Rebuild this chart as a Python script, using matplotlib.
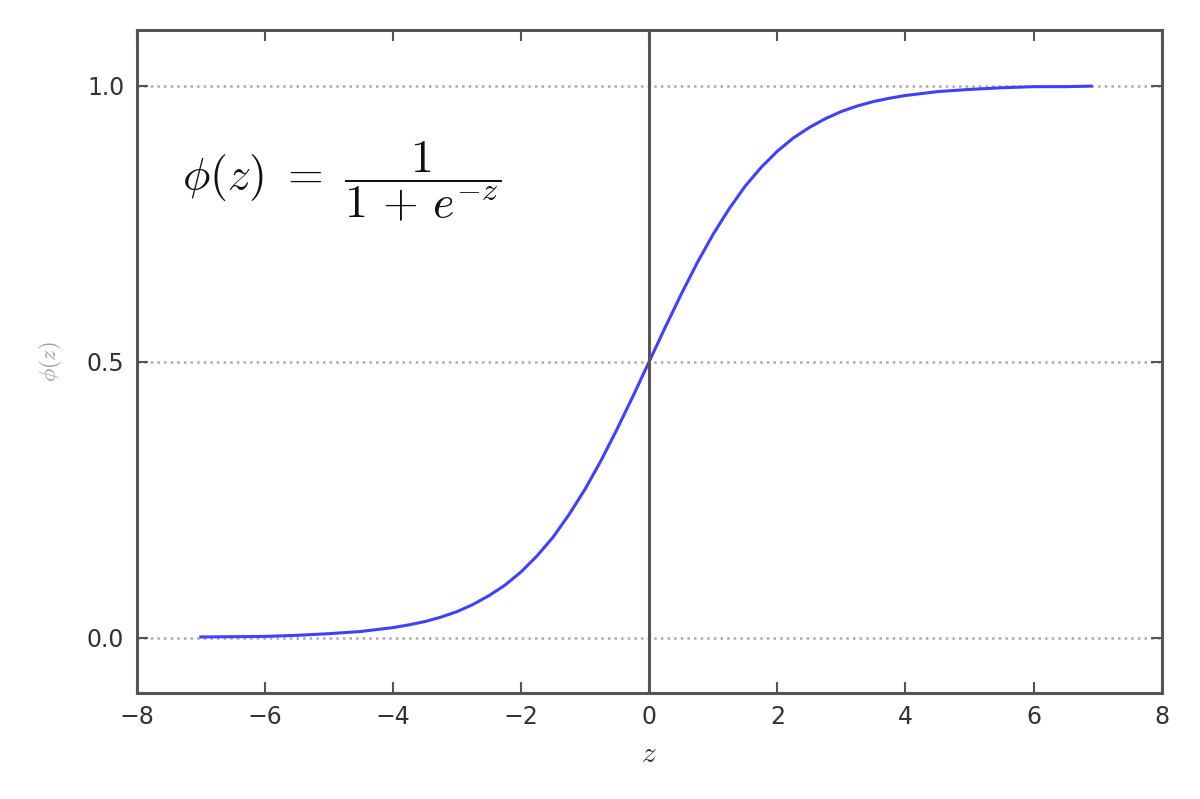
import matplotlib.pyplot as plt

# values
z = [-7.0, -6.5, -6.0, -5.5, -5.0, -4.5, -4.0, -3.75, -3.5, -3.25, -3.0, -2.75, -2.5, -2.25,
     -2.0, -1.75, -1.5, -1.25, -1.0, -0.75, -0.5, -0.25, 0.0, 0.25, 0.5, 0.75, 1.0, 1.25,
     1.5, 1.75, 2.0, 2.25, 2.5, 2.75, 3.0, 3.25, 3.5, 3.75, 4.0, 4.5, 5.0, 5.5, 6.0, 6.5, 6.9]
phi = [0.001, 0.0015, 0.002, 0.004, 0.007, 0.011, 0.018, 0.023, 0.029, 0.037, 0.047, 0.060,
       0.076, 0.095, 0.119, 0.148, 0.182, 0.223, 0.269, 0.321, 0.378, 0.438, 0.5, 0.562,
       0.622, 0.679, 0.731, 0.777, 0.818, 0.852, 0.881, 0.905, 0.924, 0.940, 0.953, 0.963,
       0.971, 0.977, 0.982, 0.989, 0.993, 0.996, 0.998, 0.998, 0.999]
yticks = [0.0, 0.5, 1.0]

plt.rcParams['mathtext.fontset'] = 'cm'

fig = plt.figure(figsize=(12, 7.99), dpi=100)
ax = fig.add_axes([0.114, 0.133, 0.854, 0.829])

ax.plot(z, phi, color='#4040ff', lw=2.2)
ax.axvline(0.0, color='#555555', lw=2.2)

ax.set_xlim(-8, 8)
ax.set_ylim(-0.1, 1.1)
ax.set_yticks(yticks)
ax.yaxis.grid(True, linestyle=':', color='#aaaaaa', lw=1.8)

for s in ax.spines.values():
    s.set_color('#555555')
    s.set_linewidth(2.2)
ax.tick_params(direction='in', length=8, width=1.5, color='#555555',
               top=True, right=True, labelsize=17, labelcolor='#333333', pad=9)

ax.set_xlabel('$z$', fontsize=21, color='#333333', labelpad=8)
ax.set_ylabel(r'$\phi (z)$', fontsize=16, color='#999999', labelpad=16)

ax.text(-7.3, 0.825, r'$\phi(z)\ =\ \dfrac{1}{1\,+\,e^{-z}}$', fontsize=33,
        color='#111111', va='center', ha='left')

fig.savefig('out.png')
